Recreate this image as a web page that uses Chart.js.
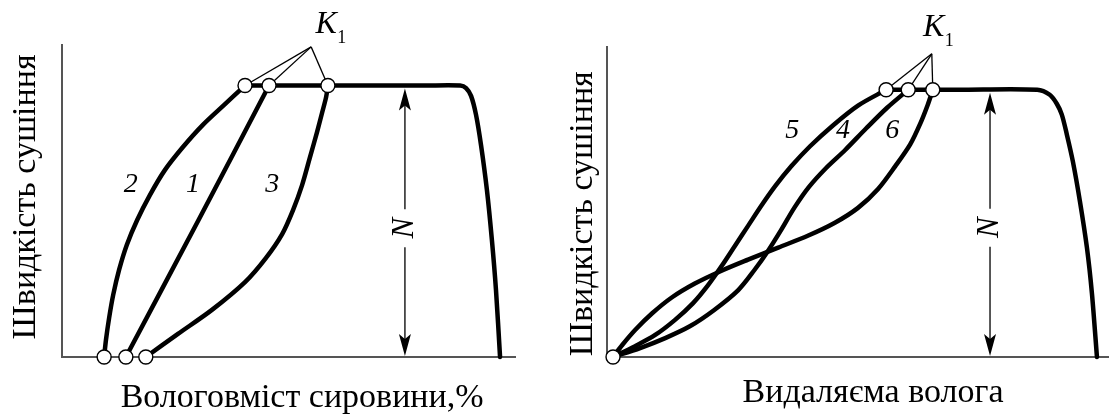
<!DOCTYPE html>
<html>
<head>
<meta charset="utf-8">
<script src="https://cdn.jsdelivr.net/npm/chart.js@4.4.0/dist/chart.umd.min.js"></script>
<style>
  html, body { margin: 0; padding: 0; background: #fff; }
  #wrap { position: relative; width: 1109px; height: 414px; overflow: hidden; }
  .panel { position: absolute; top: 0; height: 414px; }
  #left { left: 0; width: 555px; }
  #right { left: 555px; width: 566px; }
</style>
</head>
<body>
<div id="wrap">
  <div class="panel" id="left"><canvas id="chartLeft" width="555" height="414"></canvas></div>
  <div class="panel" id="right"><canvas id="chartRight" width="566" height="414"></canvas></div>
</div>
<script>
// both panels: x and y in relative units 0..100

// left panel - drying rate vs moisture content
var leftCurve1 = [[14.1, 0], [30.0, 43.5], [45.7, 87]];
var leftCurve2 = [[9.3, 0], [9.7, 5.4], [10.4, 12.5], [11.3, 19.9], [12.6, 27.9], [14.3, 35.9], [16.6, 43.9], [19.4, 51.9], [22.7, 59.9], [26.7, 67.3], [31.1, 74.4], [35.8, 80.8], [40.4, 87]];
var leftCurve3 = [[18.5, 0], [25.6, 7.4], [33.1, 15.1], [40.4, 24.0], [45.0, 31.7], [48.6, 39.4], [51.0, 47.1], [53.0, 55.1], [54.7, 63.8], [56.3, 72.1], [57.4, 78.2], [58.3, 83.3], [58.7, 87]];
var leftMain = [[40.4, 87], [60, 87], [80, 87], [87.9, 87], [89.2, 86.2], [90.3, 83.7], [91.4, 77.6], [92.5, 67.9], [93.8, 53.5], [94.9, 37.5], [95.8, 21.5], [96.7, 0]];
var leftStarts = [[9.3, 0], [14.1, 0], [18.5, 0]];
var leftBreaks = [[40.4, 87], [45.7, 87], [58.7, 87]];
var leftApex = [55.0, 99.4];
var leftCurveNames = ['2', '1', '3'];
var leftNamePos = [[15.2, 55.4], [28.9, 55.4], [46.4, 55.4]];

// right panel - drying rate vs removed moisture
var rightCurve4 = [[1.2, 0], [6.6, 2.9], [11.6, 6.1], [16.5, 9.9], [21.3, 15.1], [26.1, 21.5], [29.3, 27.9], [32.1, 34.3], [34.7, 41.0], [37.3, 48.1], [40.2, 54.8], [43.6, 60.9], [47.4, 66.7], [51.6, 73.7], [55.8, 80.4], [60.0, 86.2]];
var rightCurve5 = [[1.2, 0], [5.6, 3.5], [9.6, 7.1], [13.5, 11.9], [17.1, 17.3], [20.1, 23.1], [22.9, 29.5], [25.5, 35.9], [28.1, 42.3], [30.7, 48.7], [33.5, 55.1], [36.7, 61.5], [40.4, 67.9], [45.0, 74.7], [50.0, 81.1], [55.6, 86.2]];
var rightCurve6 = [[1.2, 0], [3.0, 3.8], [5.6, 8.7], [9.0, 14.1], [12.9, 19.2], [17.5, 23.7], [22.5, 27.6], [28.1, 31.4], [34.1, 35.3], [40.0, 39.1], [45.4, 43.3], [50.0, 48.1], [54.0, 54.2], [57.4, 61.5], [60.4, 68.6], [62.4, 75.3], [63.9, 81.4], [64.9, 86.2]];
var rightMain = [[55.6, 86.2], [70, 86.2], [85.7, 86.2], [88.2, 84.6], [89.6, 81.7], [90.6, 78.2], [91.6, 71.8], [92.8, 63.1], [94.2, 50.3], [95.6, 35.3], [96.6, 20.5], [97.6, 0]];
var rightStarts = [[1.2, 0]];
var rightBreaks = [[55.6, 86.2], [60.0, 86.2], [64.9, 86.2]];
var rightApex = [64.7, 97.8];
var rightCurveNames = ['5', '4', '6'];
var rightNamePos = [[36.9, 73.1], [47.0, 73.1], [56.8, 73.1]];

var FONT = '"Liberation Serif", "Times New Roman", serif';

function pts(arr) {
    return arr.map(function (p) { return { x: p[0], y: p[1] }; });
}

function curve(arr) {
    return {
        data: pts(arr),
        showLine: true,
        borderColor: '#000',
        borderWidth: 4.5,
        pointRadius: 0,
        tension: 0.3,
        borderCapStyle: 'round',
        borderJoinStyle: 'round',
        fill: false,
        clip: false,
        order: 1
    };
}

function leader(apex, p) {
    return {
        data: pts([apex, p]),
        showLine: true,
        borderColor: '#000',
        borderWidth: 1.3,
        pointRadius: 0,
        tension: 0,
        clip: false,
        order: 2
    };
}

function circles(arr) {
    return {
        data: pts(arr),
        showLine: false,
        pointRadius: 7,
        pointBackgroundColor: '#fff',
        pointBorderColor: '#000',
        pointBorderWidth: 1.4,
        clip: false,
        order: 0
    };
}

function arrowHead(ctx, x, tipY, dir) {
    ctx.beginPath();
    ctx.moveTo(x, tipY);
    ctx.lineTo(x - 6, tipY + dir * 22);
    ctx.lineTo(x, tipY + dir * 17);
    ctx.lineTo(x + 6, tipY + dir * 22);
    ctx.closePath();
    ctx.fill();
}

// text, the N arrow and axis titles
var sketchText = {
    id: 'sketchText',
    afterDatasetsDraw: function (chart, args, o) {
        var ctx = chart.ctx;
        var xs = chart.scales.x, ys = chart.scales.y;
        var px = function (v) { return xs.getPixelForValue(v); };
        var py = function (v) { return ys.getPixelForValue(v); };
        ctx.save();
        ctx.fillStyle = '#000';
        ctx.strokeStyle = '#222';

        // N arrow
        var ax = px(o.arrowX), top = py(o.plateau) + 3, bot = py(0) - 1, mid = py(o.nY);
        ctx.lineWidth = 1.5;
        ctx.beginPath();
        ctx.moveTo(ax, top + 12); ctx.lineTo(ax, mid - 19);
        ctx.moveTo(ax, mid + 19); ctx.lineTo(ax, bot - 12);
        ctx.stroke();
        arrowHead(ctx, ax, top, 1);
        arrowHead(ctx, ax, bot, -1);
        ctx.save();
        ctx.translate(ax, mid);
        ctx.rotate(-Math.PI / 2);
        ctx.font = 'italic 31px ' + FONT;
        ctx.textAlign = 'center';
        ctx.textBaseline = 'middle';
        ctx.fillText('N', 0, 0);
        ctx.restore();

        // curve numbers
        ctx.font = 'italic 28px ' + FONT;
        ctx.textAlign = 'center';
        ctx.textBaseline = 'middle';
        o.names.forEach(function (n, i) {
            ctx.fillText(n, px(o.namePos[i][0]), py(o.namePos[i][1]));
        });

        // K1
        var kx = px(o.apex[0]) + o.kShift, ky = py(o.apex[1]) - o.kLift;
        ctx.font = 'italic 32px ' + FONT;
        ctx.fillText('K', kx, ky);
        ctx.font = '18px ' + FONT;
        ctx.textAlign = 'left';
        ctx.fillText('1', kx + 11, ky + 13);

        // axis titles
        ctx.font = '34px ' + FONT;
        ctx.textAlign = 'center';
        ctx.textBaseline = 'alphabetic';
        ctx.fillText(o.xTitle, px(53), chart.chartArea.bottom + o.xTitleGap);
        ctx.save();
        ctx.translate(chart.chartArea.left - o.yTitleGap, py(o.yTitleAt));
        ctx.rotate(-Math.PI / 2);
        ctx.fillText(o.yTitle, 0, 0);
        ctx.restore();

        ctx.restore();
    }
};

function makeChart(id, datasets, pad, textOpts) {
    return new Chart(document.getElementById(id), {
        type: 'scatter',
        data: { datasets: datasets },
        options: {
            responsive: false,
            animation: false,
            devicePixelRatio: 1,
            layout: { padding: pad },
            scales: {
                x: {
                    type: 'linear', min: 0, max: 100,
                    grid: { display: false, drawTicks: false },
                    ticks: { display: false },
                    border: { display: true, color: '#555', width: 2 }
                },
                y: {
                    type: 'linear', min: 0, max: 100,
                    grid: { display: false, drawTicks: false },
                    ticks: { display: false },
                    border: { display: true, color: '#555', width: 2 }
                }
            },
            plugins: {
                legend: { display: false },
                tooltip: { enabled: false },
                sketchText: textOpts
            }
        },
        plugins: [sketchText]
    });
}

var leftSets = [curve(leftCurve1), curve(leftCurve2), curve(leftCurve3), curve(leftMain), circles(leftStarts.concat(leftBreaks))];
leftBreaks.forEach(function (p) { leftSets.push(leader(leftApex, p)); });

var rightSets = [curve(rightCurve4), curve(rightCurve5), curve(rightCurve6), curve(rightMain), circles(rightStarts.concat(rightBreaks))];
rightBreaks.forEach(function (p) { rightSets.push(leader(rightApex, p)); });

makeChart('chartLeft', leftSets, { left: 62, right: 40, top: 45, bottom: 57 }, {
    arrowX: 75.7, plateau: 87, nY: 41.3,
    names: leftCurveNames, namePos: leftNamePos,
    apex: leftApex, kShift: 15, kLift: 22,
    xTitle: 'Вологовміст сировини,%', xTitleGap: 50,
    yTitle: 'Швидкість сушіння', yTitleGap: 27, yTitleAt: 51.3
});

// right canvas runs past the window edge so its axis reaches x = 1109
makeChart('chartRight', rightSets, { left: 52, right: 12, top: 47, bottom: 57 }, {
    arrowX: 76.3, plateau: 86.2, nY: 41.7,
    names: rightCurveNames, namePos: rightNamePos,
    apex: rightApex, kShift: 2, kLift: 26,
    xTitle: 'Видаляєма волога', xTitleGap: 45,
    yTitle: 'Швидкість сушіння', yTitleGap: 15, yTitleAt: 46.2
});
</script>
</body>
</html>
